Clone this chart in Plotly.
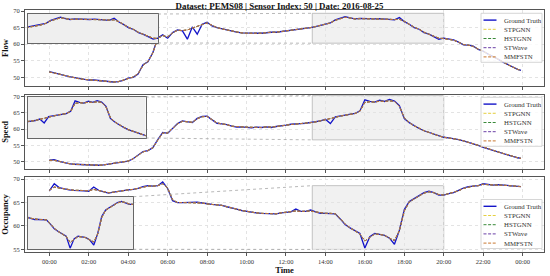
import pandas as pd
import plotly.graph_objects as go

# time axis: 15-minute readings on 2016-08-25 (last point 23:55)
times = list(pd.date_range("2016-08-25 00:00", periods=96, freq="15min")) + [pd.Timestamp("2016-08-25 23:55")]

flow_true = [51.7, 51.4, 51.0, 50.6, 50.2, 49.9, 49.6, 49.4,
             49.2, 49.2, 49.0, 48.9, 48.7, 48.6, 48.7, 49.1,
             49.8, 50.0, 51.0, 53.8, 54.7, 57.5, 61.9, 62.8,
             61.8, 63.5, 64.3, 64.0, 61.5, 65.2, 63.0, 66.0,
             66.6, 65.5, 65.0, 64.6, 64.3, 63.9, 63.6, 63.4,
             63.3, 63.2, 63.3, 63.3, 63.5, 63.6, 63.6, 63.8,
             63.9, 64.0, 64.3, 64.5, 64.8, 65.0, 65.3, 65.6,
             65.9, 66.4, 67.3, 67.8, 68.3, 67.9, 67.6, 67.8,
             67.7, 67.8, 67.6, 67.7, 67.6, 67.5, 67.3, 68.0,
             66.8, 66.0, 65.0, 64.5, 63.5, 63.0, 62.3, 61.5,
             61.8, 61.6, 61.3, 60.6, 59.8, 59.7, 59.4, 58.4,
             57.9, 57.0, 56.3, 55.5, 54.6, 53.8, 53.0, 52.4,
             52.1]
flow_pred = [51.6, 51.4, 51.0, 50.6, 50.2, 49.9, 49.6, 49.4,
             49.2, 49.2, 49.0, 48.9, 48.7, 48.6, 48.7, 49.1,
             49.7, 50.1, 51.1, 53.6, 54.8, 57.4, 61.7, 62.6,
             62.2, 63.4, 64.2, 64.1, 64.3, 64.9, 65.3, 65.9,
             66.4, 65.6, 65.0, 64.6, 64.3, 63.9, 63.6, 63.4,
             63.3, 63.2, 63.3, 63.3, 63.5, 63.6, 63.6, 63.8,
             63.9, 64.0, 64.3, 64.5, 64.8, 65.0, 65.3, 65.6,
             65.9, 66.4, 67.2, 67.7, 68.1, 67.9, 67.6, 67.7,
             67.7, 67.7, 67.6, 67.6, 67.6, 67.5, 67.4, 67.5,
             66.9, 66.0, 65.1, 64.5, 63.6, 63.0, 62.3, 61.8,
             61.7, 61.5, 61.2, 60.6, 59.9, 59.7, 59.3, 58.5,
             57.9, 57.0, 56.3, 55.5, 54.7, 53.8, 53.0, 52.4,
             52.1]

speed_true = [50.5, 50.6, 50.1, 49.7, 49.4, 49.2, 49.1, 49.0,
              49.1, 49.0, 48.9, 49.0, 49.2, 49.4, 49.7, 49.9,
              50.2, 50.9, 52.0, 53.1, 53.4, 54.3, 56.8, 59.0,
              58.7, 60.3, 61.7, 62.5, 62.3, 62.0, 63.3, 63.9,
              64.0, 63.0, 61.8, 61.6, 61.4, 60.9, 60.6, 60.7,
              60.6, 60.4, 60.6, 60.5, 60.7, 60.5, 60.8, 60.9,
              61.2, 61.5, 61.5, 61.7, 61.8, 62.0, 62.2, 62.5,
              63.0, 61.7, 63.8, 64.1, 64.3, 64.6, 64.8, 65.6,
              69.0, 68.5, 68.3, 68.9, 68.5, 69.1, 68.6, 67.2,
              63.2, 62.0, 61.0, 60.2, 59.5, 59.0, 58.4, 57.8,
              57.5, 57.3, 57.1, 56.8, 56.4, 56.0, 55.6, 55.0,
              54.4, 53.9, 53.5, 53.0, 52.4, 52.1, 51.6, 51.2,
              51.0]
speed_pred = [50.4, 50.4, 50.1, 49.7, 49.4, 49.2, 49.1, 49.0,
              49.1, 49.0, 48.9, 49.0, 49.2, 49.4, 49.7, 49.9,
              50.2, 50.9, 51.9, 53.0, 53.4, 54.3, 56.6, 58.8,
              58.8, 60.2, 61.6, 62.4, 62.3, 62.1, 63.2, 63.8,
              63.9, 63.0, 61.9, 61.6, 61.4, 60.9, 60.7, 60.7,
              60.6, 60.5, 60.6, 60.5, 60.7, 60.6, 60.8, 60.9,
              61.2, 61.4, 61.5, 61.7, 61.8, 62.0, 62.2, 62.5,
              62.9, 63.3, 63.6, 64.0, 64.3, 64.6, 64.8, 65.5,
              68.2, 68.4, 68.3, 68.6, 68.5, 68.7, 68.5, 67.0,
              63.5, 62.0, 61.0, 60.3, 59.5, 59.0, 58.4, 57.9,
              57.5, 57.3, 57.1, 56.8, 56.4, 56.0, 55.6, 55.0,
              54.5, 53.9, 53.5, 53.0, 52.5, 52.1, 51.6, 51.2,
              51.0]

occ_true = [67.5, 69.0, 68.2, 67.9, 67.7, 67.6, 67.6, 67.5,
            67.4, 68.3, 67.6, 67.3, 67.0, 67.2, 67.4, 67.5,
            67.7, 67.8, 68.0, 68.4, 68.6, 68.5, 68.6, 69.4,
            68.0, 65.4, 65.0, 65.0, 65.0, 65.0, 65.1, 64.9,
            64.7, 64.6, 64.5, 64.4, 64.1, 63.9, 63.6, 63.3,
            63.1, 62.9, 62.8, 62.7, 62.7, 62.6, 62.6, 62.8,
            62.9, 63.0, 63.6, 63.1, 63.1, 63.4, 63.0, 62.7,
            62.7, 62.7, 62.6, 61.5, 60.3, 59.6, 59.0, 58.4,
            55.3, 57.7, 58.4, 58.2, 58.0, 57.4, 56.1, 59.1,
            63.5, 65.2, 65.8, 66.5, 67.1, 67.4, 67.1, 66.6,
            66.6, 66.9, 67.1, 67.6, 68.1, 68.4, 68.5, 68.6,
            69.0, 68.8, 68.7, 68.8, 68.7, 68.6, 68.5, 68.4,
            68.4]
occ_pred = [67.6, 68.3, 68.1, 67.9, 67.7, 67.6, 67.6, 67.5,
            67.5, 67.8, 67.6, 67.3, 67.1, 67.2, 67.4, 67.5,
            67.7, 67.8, 68.0, 68.3, 68.5, 68.5, 68.6, 69.0,
            68.1, 65.6, 65.0, 65.0, 65.0, 65.0, 65.0, 64.9,
            64.7, 64.6, 64.5, 64.4, 64.1, 63.9, 63.6, 63.3,
            63.1, 62.9, 62.8, 62.7, 62.7, 62.6, 62.6, 62.8,
            62.9, 63.0, 63.2, 63.1, 63.1, 63.2, 63.0, 62.8,
            62.7, 62.7, 62.6, 61.6, 60.4, 59.6, 59.0, 58.3,
            56.8, 57.6, 58.3, 58.2, 58.0, 57.4, 56.9, 59.0,
            63.2, 65.1, 65.8, 66.4, 67.0, 67.3, 67.1, 66.7,
            66.6, 66.9, 67.1, 67.5, 68.0, 68.3, 68.5, 68.6,
            68.9, 68.8, 68.7, 68.7, 68.7, 68.6, 68.5, 68.4,
            68.4]

models = ["STPGNN", "HSTGNN", "STWave", "MMFSTN"]
model_colors = ["#e5cf3f", "#3a8a3a", "#6a3fa6", "#c8772f"]
truth_color = "#1414c8"

panel_names = ["Flow", "Speed", "Occupancy"]
panel_true = [flow_true, speed_true, occ_true]
panel_pred = [flow_pred, speed_pred, occ_pred]
panel_yrange = [[47.4, 70.3], [47.75, 70.5], [54.45, 70.45]]
panel_domain = [[0.686, 1.0], [0.343, 0.649], [0.0, 0.31]]
zoom_yrange = [[60.3, 69.3], [56.7, 70.3], [55.0, 68.6]]
# inset position in pixels: left, right, top, bottom
inset_px = [[28, 158, 14, 43], [28, 145.7, 97, 138], [28, 133.3, 196.7, 249.3]]
legend_top = [13.3, 97.3, 199.5]

zoom_x = ["2016-08-25 13:20", "2016-08-25 20:00"]
main_x = ["2016-08-24 22:46", "2016-08-26 01:05"]

FONT = "Liberation Serif, Times New Roman, serif"
W, H = 550, 276
ML, MR, MT, MB = 25, 6, 10, 24
PW, PH = W - ML - MR, H - MT - MB


def px_x(px):
    return (px - ML) / PW


def px_y(py):
    return (H - MB - py) / PH


def time_paper(t):
    t0, t1 = pd.Timestamp(main_x[0]), pd.Timestamp(main_x[1])
    return (pd.Timestamp(t) - t0) / (t1 - t0)


def val_paper(i, v):
    r0, r1 = panel_yrange[i]
    d0, d1 = panel_domain[i]
    return d0 + (v - r0) / (r1 - r0) * (d1 - d0)


fig = go.Figure()
shapes = []
annotations = []
dash = "3px,1.6px"

for i in range(3):
    main_ax = "" if i == 0 else str(i + 1)
    ins_ax = str(i + 4)
    for xa, ya in [("x" + main_ax, "y" + main_ax), ("x" + ins_ax, "y" + ins_ax)]:
        fig.add_trace(go.Scatter(x=times, y=panel_true[i], mode="lines", name="Ground Truth",
                                 line=dict(color=truth_color, width=1.3),
                                 xaxis=xa, yaxis=ya, showlegend=False))
        for m, c in zip(models, model_colors):
            fig.add_trace(go.Scatter(x=times, y=panel_pred[i], mode="lines", name=m,
                                     line=dict(color=c, width=0.9, dash=dash),
                                     xaxis=xa, yaxis=ya, showlegend=False))

    axis_common = dict(showline=True, mirror=True, linecolor="#555", linewidth=1,
                       ticks="outside", ticklen=3, tickwidth=0.8, tickcolor="#555",
                       showgrid=True, gridcolor="#e3e3e3", griddash="dot", gridwidth=0.6,
                       zeroline=False, automargin=False,
                       tickfont=dict(family=FONT, size=6.5, color="#333"))
    fig.layout["xaxis" + main_ax] = dict(
        axis_common, domain=[0, 1], range=main_x, anchor="y" + main_ax,
        tickformat="%H:%M", dtick=7200000, tick0="2016-08-25 00:00",
        showticklabels=(i == 2),
        title=dict(text="<b>Time</b>" if i == 2 else "", font=dict(family=FONT, size=8.5, color="#111"), standoff=1))
    fig.layout["yaxis" + main_ax] = dict(
        axis_common, domain=panel_domain[i], range=panel_yrange[i], anchor="x" + main_ax,
        dtick=5, title=dict(text="<b>%s</b>" % panel_names[i], font=dict(family=FONT, size=8.5, color="#111"), standoff=3))

    l, r, t, b = inset_px[i]
    fig.layout["xaxis" + ins_ax] = dict(domain=[px_x(l), px_x(r)], range=zoom_x, anchor="y" + ins_ax,
                                        showline=True, mirror=True, linecolor="#666", linewidth=0.8,
                                        showticklabels=False, ticks="", showgrid=False, zeroline=False)
    fig.layout["yaxis" + ins_ax] = dict(domain=[px_y(b), px_y(t)], range=zoom_yrange[i], anchor="x" + ins_ax,
                                        showline=True, mirror=True, linecolor="#666", linewidth=0.8,
                                        showticklabels=False, ticks="", showgrid=False, zeroline=False)

    # inset background
    shapes.append(dict(type="rect", xref="x" + ins_ax, yref="y" + ins_ax,
                       x0=zoom_x[0], x1=zoom_x[1], y0=zoom_yrange[i][0], y1=zoom_yrange[i][1],
                       fillcolor="#efefef", line=dict(width=0), layer="below"))
    # zoom window in main panel
    shapes.append(dict(type="rect", xref="x" + main_ax, yref="y" + main_ax,
                       x0=zoom_x[0], x1=zoom_x[1], y0=zoom_yrange[i][0], y1=zoom_yrange[i][1],
                       fillcolor="#f1f1f1", line=dict(color="#aaa", width=0.7), layer="below"))
    # connector lines
    zx0 = time_paper(zoom_x[0])
    for ip, zv in [(t, zoom_yrange[i][1]), (b, zoom_yrange[i][0])]:
        shapes.append(dict(type="line", xref="paper", yref="paper",
                           x0=px_x(r), y0=px_y(ip), x1=zx0, y1=val_paper(i, zv),
                           line=dict(color="#999", width=0.7, dash="dot"), layer="above"))

    # legend box
    lt = legend_top[i]
    shapes.append(dict(type="rect", xref="paper", yref="paper",
                       x0=px_x(481), x1=px_x(542), y0=px_y(lt + 49), y1=px_y(lt),
                       fillcolor="rgba(255,255,255,0.8)", line=dict(color="#ccc", width=0.8), layer="above"))
    names = ["Ground Truth"] + models
    cols = [truth_color] + model_colors
    for k in range(5):
        yy = px_y(lt + 6.8 + k * 9.2)
        shapes.append(dict(type="line", xref="paper", yref="paper",
                           x0=px_x(483.5), x1=px_x(496.5), y0=yy, y1=yy,
                           line=dict(color=cols[k], width=1.4 if k == 0 else 1.0,
                                     dash="solid" if k == 0 else dash), layer="above"))
        annotations.append(dict(text=names[k], xref="paper", yref="paper", x=px_x(502), y=yy,
                                xanchor="left", yanchor="middle", showarrow=False,
                                font=dict(family=FONT, size=6.8, color="#333")))

fig.update_layout(
    width=W, height=H,
    margin=dict(l=ML, r=MR, t=MT, b=MB),
    paper_bgcolor="white", plot_bgcolor="white",
    title=dict(text="<b>Dataset: PEMS08 | Sensor Index: 50 | Date: 2016-08-25</b>",
               x=279.5 / W, xanchor="center", y=1 - 5.5 / H, yref="container", yanchor="middle",
               font=dict(family=FONT, size=8.9, color="#111")),
    shapes=shapes, annotations=annotations,
    font=dict(family=FONT),
)

fig.write_html("out.html", config={"displayModeBar": False},
               post_script="document.body.style.margin='0';")
